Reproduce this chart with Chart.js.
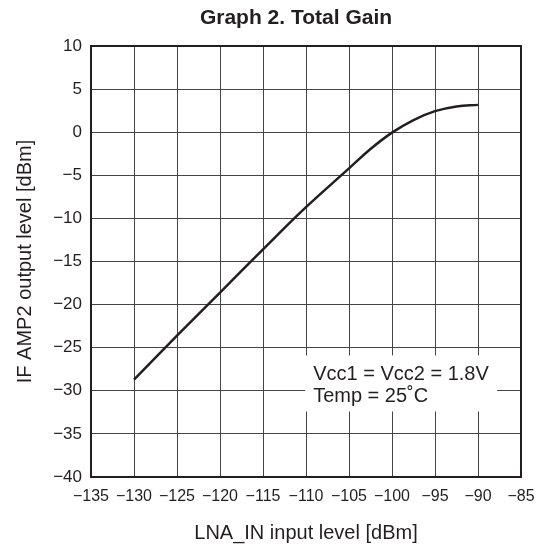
<!DOCTYPE html>
<html>
<head>
<meta charset="utf-8">
<script src="https://cdn.jsdelivr.net/npm/chart.js@4"></script>
<style>
  html, body { margin: 0; padding: 0; background: #fff; }
  #wrap { width: 546px; height: 551px; }
</style>
</head>
<body>
<div id="wrap"><canvas id="gainChart" width="546" height="551"></canvas></div>
<script>
// Dados (dBm)
const inputLevel  = [-130, -125, -120, -115, -110, -105, -102.5, -100, -97.5, -95, -92.5, -90];
const outputLevel = [-28.7, -23.6, -18.6, -13.6, -8.7, -4.2, -1.95, -0.05, 1.41, 2.44, 2.99, 3.17];

const xRange = [-135, -85];
const yRange = [-40, 10];

const chartTitle = 'Graph 2. Total Gain';
const noteLines = ['Vcc1 = Vcc2 = 1.8V', 'Temp = 25\u02DAC'];

const ink = '#231f20';
const fontFamily = '"Liberation Sans", Arial, Helvetica, sans-serif';

// trocar hífen por sinal de menos
const minus = v => String(v).replace('-', '\u2212');

// título e caixa de anotação
const extras = {
  id: 'extras',
  beforeDatasetsDraw(chart) {
    const { ctx, scales } = chart;
    const x0 = scales.x.getPixelForValue(-110.1);
    const y0 = scales.y.getPixelForValue(-25.9);
    ctx.save();
    ctx.fillStyle = '#fff';
    ctx.fillRect(x0, y0, 192, 56);
    ctx.fillStyle = ink;
    ctx.font = '20px ' + fontFamily;
    ctx.textBaseline = 'middle';
    ctx.fillText(noteLines[0], x0 + 8, y0 + 19);
    ctx.fillText(noteLines[1], x0 + 8, y0 + 41);
    ctx.restore();
  },
  afterDraw(chart) {
    const { ctx, chartArea: a } = chart;
    ctx.save();
    ctx.strokeStyle = ink;
    ctx.lineWidth = 2;
    ctx.strokeRect(a.left, a.top, a.right - a.left, a.bottom - a.top);
    ctx.fillStyle = ink;
    ctx.font = 'bold 21px ' + fontFamily;
    ctx.textAlign = 'center';
    ctx.textBaseline = 'middle';
    ctx.fillText(chartTitle, 296, 18);
    ctx.restore();
  }
};

const points = inputLevel.map((x, i) => ({ x, y: outputLevel[i] }));

new Chart(document.getElementById('gainChart'), {
  type: 'line',
  data: {
    datasets: [{
      data: points,
      borderColor: ink,
      borderWidth: 2.5,
      pointRadius: 0,
      tension: 0.4,
      fill: false
    }]
  },
  options: {
    responsive: false,
    animation: false,
    layout: { padding: { top: 46, right: 25, left: 0, bottom: 0 } },
    plugins: {
      legend: { display: false },
      title: { display: false },
      tooltip: { enabled: false }
    },
    scales: {
      x: {
        type: 'linear',
        min: xRange[0],
        max: xRange[1],
        afterFit: s => { s.height = 74; },
        grid: { color: '#444', lineWidth: 1, drawTicks: false },
        border: { display: false },
        ticks: {
          stepSize: 5,
          padding: 10,
          color: ink,
          font: { family: fontFamily, size: 16 },
          maxRotation: 0,
          callback: v => minus(v)
        },
        title: {
          display: true,
          text: 'LNA_IN input level [dBm]',
          color: ink,
          font: { family: fontFamily, size: 20 },
          padding: { top: 0, bottom: 6 }
        }
      },
      y: {
        min: yRange[0],
        max: yRange[1],
        afterFit: s => { s.width = 91; },
        grid: { color: '#444', lineWidth: 1, drawTicks: false },
        border: { display: false },
        ticks: {
          stepSize: 5,
          padding: 9,
          color: ink,
          font: { family: fontFamily, size: 17 },
          callback: v => minus(v)
        },
        title: {
          display: true,
          text: 'IF AMP2 output level [dBm]',
          color: ink,
          font: { family: fontFamily, size: 20 },
          padding: { top: 13, bottom: 0 }
        }
      }
    }
  },
  plugins: [extras]
});
</script>
</body>
</html>
